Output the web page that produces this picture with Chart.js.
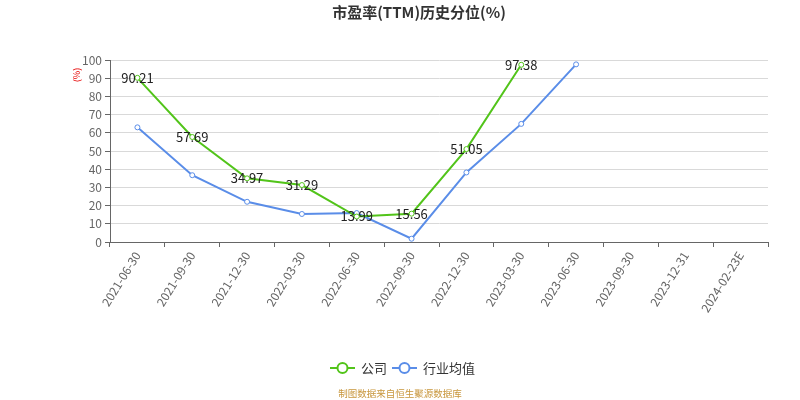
<!DOCTYPE html>
<html>
<head>
<meta charset="utf-8">
<title>市盈率(TTM)历史分位(%)</title>
<script src="https://cdn.jsdelivr.net/npm/chart.js@4.4.1/dist/chart.umd.min.js"></script>
<style>
  html, body { margin: 0; padding: 0; background: #fff; }
  #wrap { width: 800px; height: 400px; position: relative; }
</style>
</head>
<body>
<div id="wrap"><canvas id="pe"></canvas></div>
<script>
// ---- Data ----
const DATES = ["2021-06-30","2021-09-30","2021-12-30","2022-03-30","2022-06-30","2022-09-30",
               "2022-12-30","2023-03-30","2023-06-30","2023-09-30","2023-12-31","2024-02-23E"];
const COMPANY  = [90.21, 57.69, 34.97, 31.29, 13.99, 15.56, 51.05, 97.38, null, null, null, null];
const INDUSTRY = [63.0, 36.7, 22.1, 15.4, 15.9, 1.8, 38.2, 64.9, 97.6, null, null, null];
const Y_TICKS = [0, 10, 20, 30, 40, 50, 60, 70, 80, 90, 100];

const SERIES_NAMES = ["公司", "行业均值"];
const GREEN = "#52c41a";
const BLUE  = "#5a8de8";
const FONT  = "'Microsoft YaHei', 'Noto Sans CJK SC', sans-serif";

// ---- Plugin: value labels on company line, unit, legend, source ----
const extras = {
  id: "extras",
  afterDatasetsDraw(chart) {
    const ctx = chart.ctx;
    const meta = chart.getDatasetMeta(0);
    ctx.save();
    ctx.font = "13px " + FONT;
    ctx.fillStyle = "#222";
    ctx.textAlign = "center";
    ctx.textBaseline = "middle";
    meta.data.forEach((pt, i) => {
      if (COMPANY[i] == null) return;
      ctx.fillText(COMPANY[i].toFixed(2), pt.x, pt.y);
    });
    ctx.restore();
  },
  afterDraw(chart) {
    const ctx = chart.ctx;
    ctx.save();

    // unit label next to the y axis
    ctx.translate(77, 75);
    ctx.rotate(-Math.PI / 2);
    ctx.font = "9px " + FONT;
    ctx.fillStyle = "#e60000";
    ctx.textAlign = "center";
    ctx.textBaseline = "middle";
    ctx.fillText("(%)", 0, 0);
    ctx.setTransform(1, 0, 0, 1, 0, 0);
    ctx.scale(chart.currentDevicePixelRatio, chart.currentDevicePixelRatio);

    // legend
    const ly = 368;
    const items = [
      { x: 330, color: GREEN, text: SERIES_NAMES[0] },
      { x: 392, color: BLUE,  text: SERIES_NAMES[1] },
    ];
    items.forEach(it => {
      ctx.strokeStyle = it.color;
      ctx.lineWidth = 2;
      ctx.beginPath();
      ctx.moveTo(it.x, ly);
      ctx.lineTo(it.x + 25, ly);
      ctx.stroke();
      ctx.beginPath();
      ctx.arc(it.x + 12.5, ly, 5, 0, Math.PI * 2);
      ctx.fillStyle = "#fff";
      ctx.fill();
      ctx.stroke();
      ctx.font = "13px " + FONT;
      ctx.fillStyle = "#333";
      ctx.textAlign = "left";
      ctx.textBaseline = "middle";
      ctx.fillText(it.text, it.x + 31, ly);
    });

    // source line
    ctx.font = "9.5px " + FONT;
    ctx.fillStyle = "#c8963c";
    ctx.textAlign = "center";
    ctx.textBaseline = "middle";
    ctx.fillText("制图数据来自恒生聚源数据库", 400, 393);
    ctx.restore();
  }
};

// ---- Chart ----
function makeChart() {
  const ctx = document.getElementById("pe").getContext("2d");
  const lineSet = (label, data, color) => ({
    label, data,
    borderColor: color,
    backgroundColor: "#fff",
    borderWidth: 2,
    pointRadius: 2.5,
    pointBorderWidth: 1,
    pointBackgroundColor: "#fff",
    pointBorderColor: color,
    tension: 0,
    spanGaps: false
  });

  new Chart(ctx, {
    type: "line",
    data: {
      labels: DATES,
      datasets: [
        lineSet(SERIES_NAMES[0], COMPANY, GREEN),
        lineSet(SERIES_NAMES[1], INDUSTRY, BLUE)
      ]
    },
    options: {
      responsive: true,
      maintainAspectRatio: false,
      animation: false,
      layout: { padding: { left: 70, right: 32, bottom: 70, top: 0 } },
      plugins: {
        legend: { display: false },
        tooltip: { enabled: false },
        title: {
          display: true,
          text: "市盈率(TTM)历史分位(%)",
          color: "#333",
          font: { family: FONT, size: 15, weight: "bold" },
          padding: { top: 3, bottom: 39 }
        }
      },
      scales: {
        x: {
          offset: true,
          afterFit: s => { s.height = 88; },
          grid: { drawOnChartArea: false, drawTicks: true, tickLength: 5, tickColor: "#666", offset: true },
          border: { color: "#666" },
          ticks: {
            color: "#666",
            font: { family: FONT, size: 12 },
            autoSkip: false,
            minRotation: 58,
            maxRotation: 58,
            padding: 2
          }
        },
        y: {
          min: 0,
          max: 100,
          afterFit: s => { s.width = 40; },
          afterBuildTicks: s => { s.ticks = Y_TICKS.map(v => ({ value: v })); },
          grid: { color: "#d9d9d9", tickColor: "#666", tickLength: 5 },
          border: { color: "#666" },
          ticks: {
            color: "#666",
            font: { family: FONT, size: 12 },
            padding: 3
          }
        }
      }
    },
    plugins: [extras]
  });
}

document.addEventListener("DOMContentLoaded", makeChart);
</script>
</body>
</html>
